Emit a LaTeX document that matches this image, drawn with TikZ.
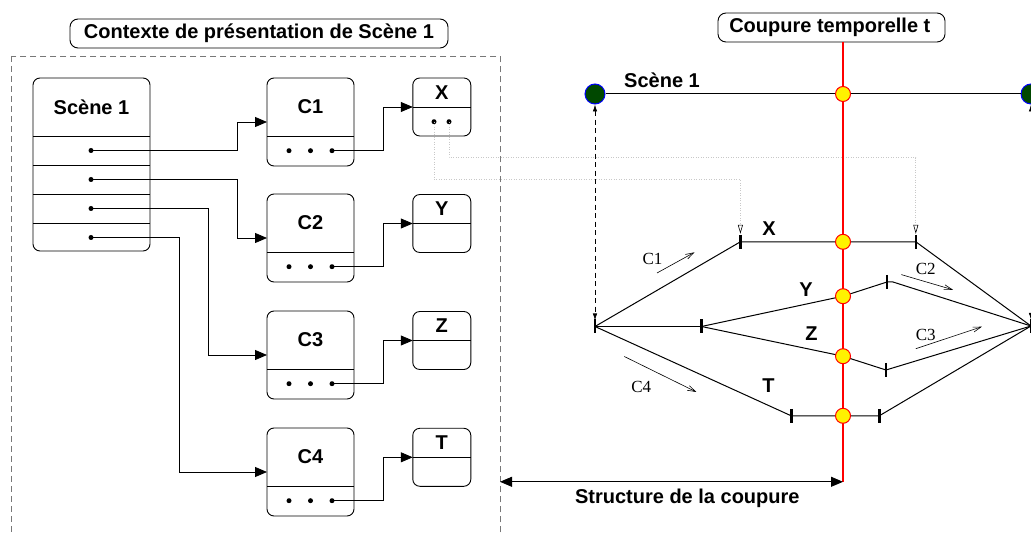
\documentclass[tikz,border=0pt]{standalone}
\usepackage{fontspec}
\setmainfont{Liberation Sans}
\newfontfamily\seriffont{Liberation Serif}
\usetikzlibrary{arrows.meta}
\definecolor{dkgreen}{RGB}{0,72,0}
\definecolor{dashgray}{RGB}{120,120,120}
\definecolor{dotgray}{RGB}{200,200,200}
\begin{document}
\begin{tikzpicture}[x=1pt,y=-1pt,
  box/.style={draw=black, line width=0.9pt, rounded corners=7pt, inner sep=0pt, outer sep=0pt},
  lbl/.style={font=\fontsize{20}{22}\selectfont\bfseries, inner sep=0pt},
  clbl/.style={font=\seriffont\fontsize{17}{19}\selectfont, inner sep=0pt},
  divider/.style={line width=0.8pt},
  conn/.style={line width=0.8pt, -{Triangle[length=12pt,width=10pt]}},
  dotc/.style={circle, fill=black, inner sep=0pt, minimum size=5pt},
  track/.style={line width=1pt},
  tickmark/.style={line width=2.6pt},
  greencirc/.style={circle, fill=dkgreen, draw=blue, line width=1pt, minimum size=20pt, inner sep=0pt},
  yellowcirc/.style={circle, fill=yellow, draw=red, line width=1pt, minimum size=15pt, inner sep=0pt},
  dottedline/.style={draw=dotgray, line width=0.7pt, dash pattern=on 1pt off 1.5pt, -{Triangle[open,length=9pt,width=5pt,color=black,line width=0.6pt]}},
  dashedarrow/.style={dash pattern=on 5pt off 3.5pt, line width=0.8pt, {Latex[length=7pt,width=4.5pt]}-{Latex[length=7pt,width=4.5pt]}},
  smallarrow/.style={line width=0.6pt, -{Straight Barb[length=8pt,width=5pt]}}
]
\useasboundingbox (0,0) rectangle (1031,534);
\clip (0,0) rectangle (1031,534);

% ---------- left panel ----------
\draw[dashgray, line width=0.9pt, dash pattern=on 6pt off 4pt] (11.7,56) rectangle (500,560);
\node[box, rounded corners=8pt, lbl, minimum width=378pt, minimum height=29pt] (ctx) at (259,33.5) {Contexte de présentation de Scène 1};

% Scene box
\node[box, minimum width=117pt, minimum height=173pt] (scene) at (91.5,164.5) {};
\node[lbl] (scenelbl) at (91.5,107) {Scène 1};
\foreach \d in {58,87,116,145}
  \draw[divider] ([yshift=-\d pt]scene.north west) -- ([yshift=-\d pt]scene.north east);
\node[dotc] (s1) at (91,150.5) {};
\node[dotc] (s2) at (91,179.5) {};
\node[dotc] (s3) at (91,208.5) {};
\node[dotc] (s4) at (91,237.5) {};

% C boxes and X boxes
\foreach \n/\cy/\xy/\lab/\xl in {1/122/107/C1/X, 2/238/223.5/C2/Y, 3/355/340.5/C3/Z, 4/472/457.3/C4/T}{
  \node[box, minimum width=87pt, minimum height=88pt] (c\n) at (310.5,\cy) {};
  \node[lbl] (c\n lbl) at ([yshift=-29pt]c\n.north) {\lab};
  \draw[divider] ([yshift=-58pt]c\n.north west) -- ([yshift=-58pt]c\n.north east);
  \node[dotc] (c\n a) at (289,\cy+28.7) {};
  \node[dotc] (c\n b) at (310.5,\cy+28.7) {};
  \node[dotc] (c\n c) at (332,\cy+28.7) {};
  \node[box, minimum width=58pt, minimum height=58pt] (x\n) at (441.8,\xy) {};
  \node[lbl] (x\n lbl) at ([yshift=-14.5pt]x\n.north) {\xl};
  \draw[divider] (x\n.west) -- (x\n.east);
  \draw[conn] (c\n c.center) -- ++(51,0) |- (x\n.west);
}
\node[dotc] (xa) at (434,121.7) {};
\node[dotc] (xb) at (449,121.7) {};

\draw[conn] (s1.center) -- ++(146,0) |- (c1.west);
\draw[conn] (s2.center) -- ++(146,0) |- (c2.west);
\draw[conn] (s3.center) -- ++(117.3,0) |- (c3.west);
\draw[conn] (s4.center) -- ++(88,0) |- (c4.west);

% ---------- right panel ----------
\node[box, rounded corners=8pt, lbl, minimum width=227pt, minimum height=29pt] (cut) at (831.5,27.5) {Coupure temporelle t\,};
\coordinate (cutend) at (843,481.8);
\coordinate (structL) at (500,481.8);

\node[greencirc] (g1) at (595,94) {};
\node[greencirc] (g2) at (1031,94) {};
\node[lbl] (scene2) at (662,80) {Scène 1};

\coordinate (L) at (595,326.5);
\coordinate (R) at (1031,326);
\coordinate (mid) at (701.5,326.5);
\coordinate (x1t) at (740.4,241.8);
\coordinate (x2t) at (915.8,241.8);
\coordinate (yt) at (887,282);
\coordinate (zt) at (886,370);
\coordinate (t1t) at (791.2,415.8);
\coordinate (t2t) at (879.3,415.8);
\coordinate (yS) at (843,94);
\coordinate (yX) at (843,241.8);
\coordinate (yY) at (843,296.2);
\coordinate (yZ) at (843,356.2);
\coordinate (yT) at (843,415.8);

\draw[track] (g1) -- (g2);
\draw[track] (L) -- (x1t) -- (x2t) -- (R);
\draw[track] (L) -- (mid);
\draw[track] (mid) -- (yY) -- (yt) -- ++(6,0) -- (R);
\draw[track] (mid) -- (yZ) -- (zt) -- (R);
\draw[track] (L) -- (t1t) -- (t2t) -- (R);

\foreach \p in {L,mid,x1t,x2t,yt,zt,t1t,t2t,R}
  \draw[tickmark] ([yshift=7pt]\p) -- ([yshift=-7pt]\p);

\draw[dashedarrow, shorten >=6pt] (g1) -- (L);
\draw[dashedarrow, shorten >=6pt] (g2) -- (R);

% dotted links from X
\draw[dottedline] (xa.center) -- ++(0,57.6) -| ([yshift=8pt]x1t);
\draw[dottedline] (xb.center) -- ++(0,36) -| ([yshift=8pt]x2t);

% red cut line
\draw[red, line width=1.4pt] (cut.south -| cutend) -- (cutend);
\foreach \p in {yS,yX,yY,yZ,yT}
  \node[yellowcirc] at (\p) {};

% labels
\node[lbl] (lx) at (769,229) {X};
\node[lbl] (ly) at (806,290) {Y};
\node[lbl] (lz) at (811.5,333.5) {Z};
\node[lbl] (lt) at (768.5,386) {T};

\node[clbl] (lc1) at (652.5,259) {C1};
\coordinate (a1s) at (657,273); \coordinate (a1e) at (694.5,252.3);
\draw[smallarrow] (a1s) -- (a1e);
\node[clbl] (lc2) at (925.7,269) {C2};
\coordinate (a2s) at (901.3,274.6); \coordinate (a2e) at (953,289.8);
\draw[smallarrow] (a2s) -- (a2e);
\node[clbl] (lc3) at (925.7,335.2) {C3};
\coordinate (a3s) at (915.8,348.7); \coordinate (a3e) at (981.9,326.7);
\draw[smallarrow] (a3s) -- (a3e);
\node[clbl] (lc4) at (641.2,387.3) {C4};
\coordinate (a4s) at (624.3,356.5); \coordinate (a4e) at (696.4,392);
\draw[smallarrow] (a4s) -- (a4e);

% structure arrow
\draw[line width=0.9pt, {Triangle[length=12pt,width=10pt]}-{Triangle[length=12pt,width=10pt]}] (structL) -- (cutend);
\node[lbl] (struct) at (687.3,498) {Structure de la coupure};
\end{tikzpicture}
\end{document}
